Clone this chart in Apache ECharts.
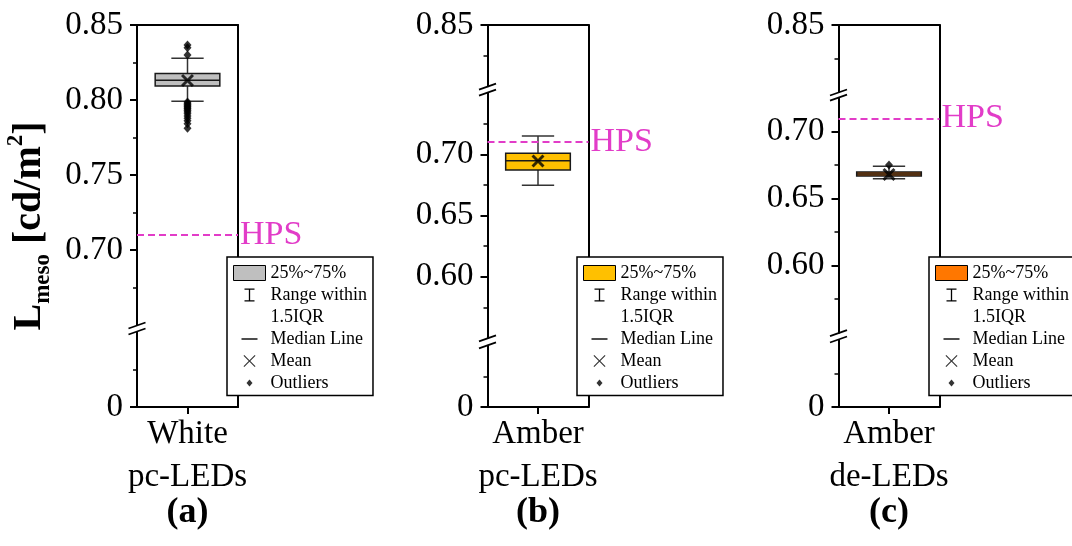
<!DOCTYPE html>
<html><head><meta charset="utf-8">
<script src="https://cdn.jsdelivr.net/npm/echarts@6/dist/echarts.min.js"></script>
<style>html,body{margin:0;padding:0;background:#fff}#chart{width:1072px;height:546px}</style>
</head><body><div id="chart"></div>
<script>
// ---------------- data ----------------
const categories = ['White\npc-LEDs', 'Amber\npc-LEDs', 'Amber\nde-LEDs'];
const panelTags = ['(a)', '(b)', '(c)'];
const whiskerLow  = [0.7992, 0.6747, 0.6649];
const q1Vals      = [0.8093, 0.6872, 0.6669];
const medianVals  = [0.8132, 0.6948, 0.6684];
const q3Vals      = [0.8176, 0.7008, 0.6699];
const whiskerHigh = [0.8278, 0.7150, 0.6742];
const meanVals    = [0.8130, 0.6945, 0.6681];
const outliersA = [0.8367, 0.8348, 0.8300, 0.7986, 0.7978, 0.7970, 0.7962, 0.7955, 0.7947, 0.7940,
                   0.7930, 0.7920, 0.7908, 0.7893, 0.7878, 0.7862, 0.7842, 0.7812];
const outliersB = [];
const outliersC = [0.6752];
const hpsValue = 0.7105;
const hpsLabel = 'HPS';
const legendNames = ['25%~75%', 'Range within', '1.5IQR', 'Median Line', 'Mean', 'Outliers'];
// y-axis segments (value ranges between axis breaks) and ticks
const segRangesA = [[0.65, 0.85], [0, 0.05]];
const segRangesB = [[0.80, 0.85], [0.55, 0.75], [0, 0.05]];
const segRangesC = [[0.80, 0.85], [0.55, 0.725], [0, 0.05]];
const labelTicksA = [[0.70, 0.75, 0.80, 0.85], [0]];
const minorTicksA = [[0.675, 0.725, 0.775, 0.825], [0.025]];
const labelTicksB = [[0.85], [0.60, 0.65, 0.70], [0]];
const minorTicksB = [[0.825], [0.575, 0.625, 0.675, 0.725], [0.025]];
const labelTicksC = [[0.85], [0.60, 0.65, 0.70], [0]];
const minorTicksC = [[0.825], [0.575, 0.625, 0.675], [0.025]];

// ---------------- layout / style ----------------
const F = "'Times New Roman', 'Liberation Serif', serif";
const HPS_COLOR = '#E23CC8';
const PLOT_TOP = 25, PLOT_H = 382, PLOT_W = 101;
const panelLeft = [137, 487.5, 838.5];
const segTops = [[25, 332], [25, 93.1, 345.8], [25, 98.2, 340]];
const segHeights = [[300, 75], [61.2, 244.8, 61.2], [67, 234.5, 67]];
const dataSeg = [0, 1, 1];
const boxColors = ['#BFBFBF', '#FFC000', '#FF7700'];
const legendPos = [[227, 257], [577, 257], [929, 257]];

const segRanges = [segRangesA, segRangesB, segRangesC];
const labelTicks = [labelTicksA, labelTicksB, labelTicksC];
const minorTicks = [minorTicksA, minorTicksB, minorTicksC];
const outliers = [outliersA, outliersB, outliersC];

function xPoly(cx, cy, h, d) {
  const p = [[cx-h, cy-h+d],[cx-h+d, cy-h],[cx, cy-d],[cx+h-d, cy-h],[cx+h, cy-h+d],[cx+d, cy],
             [cx+h, cy+h-d],[cx+h-d, cy+h],[cx, cy+d],[cx-h+d, cy+h],[cx-h, cy+h-d],[cx-d, cy]];
  return 'M' + p.map(q => q[0].toFixed(2) + ' ' + q[1].toFixed(2)).join(' L') + ' Z';
}
const VB = 'M0 0 M32 15 ';
const iconWhisker = 'path://' + VB + 'M11 1 L21 1 L21 2.3 L16.65 2.3 L16.65 12.7 L21 12.7 L21 14 L11 14 L11 12.7 L15.35 12.7 L15.35 2.3 L11 2.3 Z';
const iconMedian = 'path://' + VB + 'M8 6.8 L24 6.8 L24 8.2 L8 8.2 Z';
const iconMean = 'path://' + VB + xPoly(16, 7.5, 6, 0.8);
const iconOutlier = 'path://' + VB + 'M16 4 L19 7.5 L16 11 L13 7.5 Z';
const meanSymbol = 'path://' + xPoly(5, 5, 5, 1.6);

function renderBox(params, api) {
  const lo = api.coord([api.value(0), api.value(1)]);
  const hi = api.coord([api.value(0), api.value(2)]);
  const bw = api.size([1, 0])[0] * 0.64;
  return { type: 'rect', shape: { x: lo[0] - bw / 2, y: hi[1], width: bw, height: lo[1] - hi[1] },
           style: { fill: api.visual('color'), stroke: '#1a1a1a', lineWidth: 1.5 } };
}
function renderMedian(params, api) {
  const m = api.coord([api.value(0), api.value(1)]);
  const hw = api.size([1, 0])[0] * 0.32;
  return { type: 'line', shape: { x1: m[0] - hw, y1: m[1], x2: m[0] + hw, y2: m[1] },
           style: { stroke: '#1a1a1a', lineWidth: 1.5 } };
}
function renderWhisker(params, api) {
  const x = api.value(0);
  const lo = api.coord([x, api.value(1)]);
  const b1 = api.coord([x, api.value(2)]);
  const b2 = api.coord([x, api.value(3)]);
  const hi = api.coord([x, api.value(4)]);
  const cw = api.size([1, 0])[0] * 0.16;
  const st = { stroke: '#333', lineWidth: 1.5 };
  return { type: 'group', children: [
    { type: 'line', shape: { x1: lo[0], y1: lo[1], x2: b1[0], y2: b1[1] }, style: st },
    { type: 'line', shape: { x1: b2[0], y1: b2[1], x2: hi[0], y2: hi[1] }, style: st },
    { type: 'line', shape: { x1: lo[0] - cw, y1: lo[1], x2: lo[0] + cw, y2: lo[1] }, style: st },
    { type: 'line', shape: { x1: hi[0] - cw, y1: hi[1], x2: hi[0] + cw, y2: hi[1] }, style: st }
  ] };
}

const grid = [], xAxis = [], yAxis = [], series = [], legend = [], graphic = [];
const lineSt = { color: '#000', width: 2 };

for (let p = 0; p < 3; p++) {
  const L = panelLeft[p];
  // frame grid: full panel box, bottom category axis, top & right border lines
  const fg = grid.length;
  grid.push({ left: L, top: PLOT_TOP, width: PLOT_W, height: PLOT_H, outerBoundsMode: 'none' });
  const fx = xAxis.length;
  xAxis.push({ gridIndex: fg, type: 'category', position: 'bottom', data: [categories[p]],
    axisLine: { lineStyle: lineSt }, axisTick: { show: true, alignWithLabel: true, length: 7, lineStyle: lineSt },
    axisLabel: { fontSize: 33, lineHeight: 43, margin: 6, color: '#000', fontFamily: F }, splitLine: { show: false } });
  xAxis.push({ gridIndex: fg, type: 'category', position: 'top', data: [categories[p]],
    axisLine: { lineStyle: lineSt }, axisTick: { show: false }, axisLabel: { show: false }, splitLine: { show: false } });
  const fy = yAxis.length;
  yAxis.push({ gridIndex: fg, type: 'value', position: 'right', min: 0, max: 1,
    axisLine: { show: true, lineStyle: lineSt }, axisTick: { show: false }, axisLabel: { show: false }, splitLine: { show: false } });
  if (p === 0) {
    series.push({ type: 'custom', name: '1.5IQR', xAxisIndex: fx, yAxisIndex: fy, data: [], renderItem: () => null });
  }

  const segs = segRanges[p];
  const segAxis = [];
  for (let k = 0; k < segs.length; k++) {
    const g = grid.length;
    grid.push({ left: L, top: segTops[p][k], width: PLOT_W, height: segHeights[p][k], outerBoundsMode: 'none' });
    const xi = xAxis.length;
    xAxis.push({ gridIndex: g, type: 'category', data: [categories[p]], show: false });
    const yi = yAxis.length;
    yAxis.push({ gridIndex: g, type: 'value', position: 'left', min: segs[k][0], max: segs[k][1],
      axisLine: { show: true, lineStyle: lineSt },
      axisTick: { show: true, length: 7, lineStyle: lineSt, customValues: labelTicks[p][k] },
      axisLabel: { show: true, customValues: labelTicks[p][k], margin: 14, fontSize: 33, color: '#000', fontFamily: F,
                   formatter: v => (v === 0 ? '0' : v.toFixed(2)) },
      splitLine: { show: false } });
    yAxis.push({ gridIndex: g, type: 'value', position: 'left', min: segs[k][0], max: segs[k][1],
      axisLine: { show: false },
      axisTick: { show: true, length: 4, lineStyle: { color: '#000', width: 1.5 }, customValues: minorTicks[p][k] },
      axisLabel: { show: false }, splitLine: { show: false } });
    segAxis.push([xi, yi]);
    // break marks between this segment and the next one
    if (k < segs.length - 1) {
      const yTop = segTops[p][k] + segHeights[p][k] + 0.5;
      const yBot = segTops[p][k + 1] - 0.5;
      [yTop, yBot].forEach(y => graphic.push({ type: 'line', z: 20,
        shape: { x1: L - 8.5, y1: y + 3, x2: L + 8.5, y2: y - 3 }, style: { stroke: '#000', lineWidth: 1.8 } }));
    }
  }

  const [dx, dy] = segAxis[dataSeg[p]];
  series.push({ type: 'custom', name: 'Range within', xAxisIndex: dx, yAxisIndex: dy, z: 2,
    data: [[0, whiskerLow[p], q1Vals[p], q3Vals[p], whiskerHigh[p]]], renderItem: renderWhisker });
  series.push({ type: 'custom', name: '25%~75%', xAxisIndex: dx, yAxisIndex: dy, z: 3,
    itemStyle: { color: boxColors[p] }, data: [[0, q1Vals[p], q3Vals[p]]], renderItem: renderBox });
  series.push({ type: 'custom', name: 'Median Line', xAxisIndex: dx, yAxisIndex: dy, z: 4,
    data: [[0, medianVals[p]]], renderItem: renderMedian });
  series.push({ type: 'scatter', name: 'Outliers', xAxisIndex: dx, yAxisIndex: dy, z: 5,
    symbol: 'diamond', symbolSize: [8, 9], itemStyle: { color: '#000' },
    data: outliers[p].map(v => [0, v]) });
  series.push({ type: 'scatter', name: 'Mean', xAxisIndex: dx, yAxisIndex: dy, z: 6,
    symbol: meanSymbol, symbolSize: 13, itemStyle: { color: '#000' }, data: [[0, meanVals[p]]],
    markLine: { silent: true, animation: false, symbol: ['none', 'none'], data: [{ yAxis: hpsValue }],
      lineStyle: { color: HPS_COLOR, type: [7, 4], width: 2 },
      emphasis: { disabled: true },
      label: { show: true, position: 'end', formatter: hpsLabel, color: HPS_COLOR, fontSize: 34, fontFamily: F, distance: 2 } } });

  legend.push({ left: legendPos[p][0], top: legendPos[p][1], orient: 'vertical', align: 'left',
    selectedMode: false, itemWidth: 32, itemHeight: 15, itemGap: 1, itemTextGap: 15,
    padding: [5.5, 6, 2, 6], backgroundColor: '#fff', borderColor: '#000', borderWidth: 1.5, borderRadius: 0, z: 10,
    textStyle: { fontSize: 18, lineHeight: 21, color: '#000', fontFamily: F },
    data: [
      { name: legendNames[0], icon: 'rect', itemStyle: { color: boxColors[p], borderColor: '#000', borderWidth: 1 } },
      { name: legendNames[1], icon: iconWhisker, itemStyle: { color: '#000', borderWidth: 0 } },
      { name: legendNames[2], icon: 'rect', itemStyle: { color: 'rgba(0,0,0,0)', borderWidth: 0 } },
      { name: legendNames[3], icon: iconMedian, itemStyle: { color: '#000', borderWidth: 0 } },
      { name: legendNames[4], icon: iconMean, itemStyle: { color: '#000', borderWidth: 0 } },
      { name: legendNames[5], icon: iconOutlier, itemStyle: { color: '#000', borderWidth: 0 } }
    ] });

  graphic.push({ type: 'text', x: L + PLOT_W / 2, y: 513, z: 20,
    style: { text: panelTags[p], fontSize: 36, fontWeight: 'bold', fontFamily: F, fill: '#000', align: 'center', verticalAlign: 'middle' } });
}

graphic.push({ type: 'text', x: 30, y: 226, rotation: Math.PI / 2, z: 20,
  style: { text: '{m|L}{s|meso}{m| [cd/m}{p|2}{m|]}', align: 'center', verticalAlign: 'middle', fill: '#000',
    rich: {
      m: { fontSize: 40, fontWeight: 'bold', fontFamily: F, fill: '#000', lineHeight: 50, verticalAlign: 'middle' },
      s: { fontSize: 23, fontWeight: 'bold', fontFamily: F, fill: '#000', lineHeight: 23, verticalAlign: 'bottom' },
      p: { fontSize: 23, fontWeight: 'bold', fontFamily: F, fill: '#000', lineHeight: 23, verticalAlign: 'top' }
    } } });

const chart = echarts.init(document.getElementById('chart'), null, { renderer: 'canvas' });
chart.setOption({ animation: false, backgroundColor: '#fff', grid, xAxis, yAxis, series, legend, graphic });
</script>
</body></html>
